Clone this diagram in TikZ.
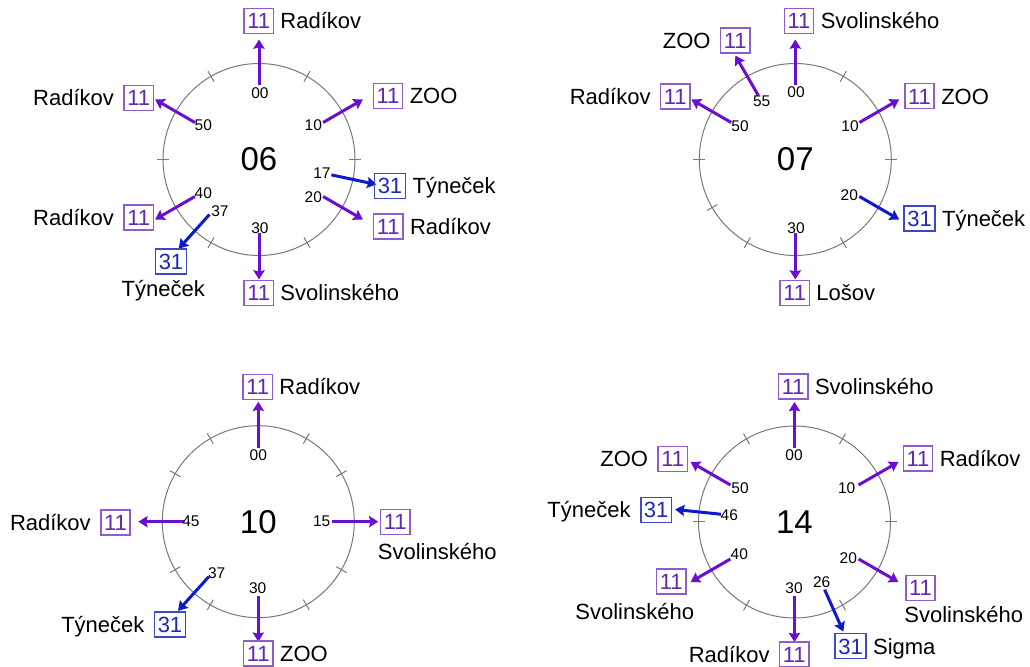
\documentclass[tikz,border=0pt]{standalone}
\usepackage{fontspec}
\setmainfont{Liberation Sans}
\usetikzlibrary{arrows.meta,calc}

\definecolor{lineviolet}{RGB}{108,14,210}
\definecolor{boxviolet}{RGB}{142,92,204}
\definecolor{txtviolet}{RGB}{98,40,178}
\definecolor{lineblue}{RGB}{14,24,204}
\definecolor{boxblue}{RGB}{62,72,196}
\definecolor{txtblue}{RGB}{30,40,184}
\definecolor{dialgray}{RGB}{120,120,120}

% clock face: name, centre x, centre y, hour
\newcommand\clockface[4]{%
  \coordinate (#1) at (#2,#3);
  \draw[dialline] (#1) circle[radius=96];
  \foreach \k in {0,30,...,330}
    \draw[dialline] ($(#1)+(\k:90)$) -- ($(#1)+(\k:102)$);
  \node[hour] (#1h) at (#1) {#4};
}
% one departure arrow: dial, minute, line number
\newcommand\departure[3]{%
  \coordinate (#1#2s) at ($(#1)+({6*#2-90}:74)$);
  \coordinate (#1#2t) at ($(#1)+({6*#2-90}:120)$);
  \draw[r#3] (#1#2s) -- (#1#2t);
}

\begin{document}
\begin{tikzpicture}[x=0.5pt,y=-0.5pt,
  dialline/.style={draw=dialgray, line width=0.5pt},
  hour/.style={font=\fontsize{16.5pt}{18pt}\selectfont, inner sep=0pt},
  mins/.style={font=\fontsize{7.75pt}{9pt}\selectfont, inner sep=0pt},
  dest/.style={font=\fontsize{11pt}{13pt}\selectfont, inner sep=0pt, text height=7.9pt, text depth=0pt},
  linebox/.style={font=\fontsize{11pt}{13pt}\selectfont, line width=0.75pt, inner xsep=1.6pt, inner ysep=2.3pt, text height=7.9pt, text depth=0pt},
  l11/.style={linebox, draw=boxviolet, text=txtviolet},
  l31/.style={linebox, draw=boxblue, text=txtblue},
  run/.style={line width=1.5pt, -{Stealth[length=4.6pt,width=5.6pt,inset=0.6pt]}},
  r11/.style={run, draw=lineviolet},
  r31/.style={run, draw=lineblue},
  toright/.style={dest, anchor=west, xshift=3pt},
  toleft/.style={dest, anchor=east, xshift=-4.5pt},
]
\useasboundingbox (0,0) rectangle (1030,667);

% ---------------- 06 ----------------
\clockface{A}{259}{159.5}{06}
\departure{A}{0}{11}
\departure{A}{10}{11}
\departure{A}{17}{31}
\departure{A}{20}{11}
\departure{A}{30}{11}
\departure{A}{37}{31}
\departure{A}{40}{11}
\departure{A}{50}{11}
\node[mins] (A0m)  at (260,92.7)    {00};
\node[mins] (A10m) at (313.3,125)   {10};
\node[mins] (A17m) at (322,173.3)   {17};
\node[mins] (A20m) at (313.3,196.7) {20};
\node[mins] (A30m) at (260,228.3)   {30};
\node[mins] (A37m) at (220,210.7)   {37};
\node[mins] (A40m) at (203.3,192.7) {40};
\node[mins] (A50m) at (203.3,125)   {50};
\node[l11] (A0b)  at (258.7,20.8)  {11};
\node[l11] (A10b) at (388,95.8)    {11};
\node[l31] (A17b) at (390,185.8)   {31};
\node[l11] (A20b) at (388.3,226.7) {11};
\node[l11] (A30b) at (258.7,292.8) {11};
\node[l31] (A37b) at (171,261.7)   {31};
\node[l11] (A40b) at (138.7,217.5) {11};
\node[l11] (A50b) at (138.7,98)    {11};
\node[toright] (A0d)  at (A0b.east)  {Radíkov};
\node[toright] (A10d) at (A10b.east) {ZOO};
\node[toright] (A17d) at (A17b.east) {Týneček};
\node[toright] (A20d) at (A20b.east) {Radíkov};
\node[toright] (A30d) at (A30b.east) {Svolinského};
\node[dest]    (A37d) at (163.3,289) {Týneček};
\node[toleft]  (A40d) at (A40b.west) {Radíkov};
\node[toleft]  (A50d) at (A50b.west) {Radíkov};

% ---------------- 07 ----------------
\clockface{B}{795.3}{159.5}{07}
\departure{B}{0}{11}
\departure{B}{10}{11}
\departure{B}{20}{31}
\departure{B}{30}{11}
\departure{B}{50}{11}
\departure{B}{55}{11}
\node[mins] (B0m)  at (796,91.7)    {00};
\node[mins] (B10m) at (850,126)     {10};
\node[mins] (B20m) at (849.3,195)   {20};
\node[mins] (B30m) at (796,228.3)   {30};
\node[mins] (B50m) at (740,126)     {50};
\node[mins] (B55m) at (761.7,101.7) {55};
\node[l11] (B0b)  at (799,20.8)    {11};
\node[l11] (B10b) at (919.5,96.2)  {11};
\node[l31] (B20b) at (919.5,218.7) {31};
\node[l11] (B30b) at (794.7,292.8) {11};
\node[l11] (B50b) at (675.3,96.7)  {11};
\node[l11] (B55b) at (735.3,40.5)  {11};
\node[toright] (B0d)  at (B0b.east)  {Svolinského};
\node[toright] (B10d) at (B10b.east) {ZOO};
\node[toright] (B20d) at (B20b.east) {Týneček};
\node[toright] (B30d) at (B30b.east) {Lošov};
\node[toleft]  (B50d) at (B50b.west) {Radíkov};
\node[toleft]  (B55d) at (B55b.west) {ZOO};

% ---------------- 10 ----------------
\clockface{C}{258.3}{521.7}{10}
\departure{C}{0}{11}
\departure{C}{15}{11}
\departure{C}{30}{11}
\departure{C}{37}{31}
\departure{C}{45}{11}
\node[mins] (C0m)  at (258.3,455)   {00};
\node[mins] (C15m) at (321.7,521.7) {15};
\node[mins] (C30m) at (257.7,588.3) {30};
\node[mins] (C37m) at (216.7,572.7) {37};
\node[mins] (C45m) at (191,521)     {45};
\node[l11] (C0b)  at (257.7,386.8) {11};
\node[l11] (C15b) at (395.3,522)   {11};
\node[l11] (C30b) at (258.3,653.3) {11};
\node[l31] (C37b) at (170,624.7)   {31};
\node[l11] (C45b) at (115.5,522.5) {11};
\node[toright] (C0d)  at (C0b.east)  {Radíkov};
\node[dest, anchor=west] (C15d) at (377.5,551.5) {Svolinského};
\node[toright] (C30d) at (C30b.east) {ZOO};
\node[toleft]  (C37d) at (C37b.west) {Týneček};
\node[toleft]  (C45d) at (C45b.west) {Radíkov};

% ---------------- 14 ----------------
\clockface{D}{794.5}{522}{14}
\departure{D}{0}{11}
\departure{D}{10}{11}
\departure{D}{20}{11}
\departure{D}{26}{31}
\departure{D}{30}{11}
\departure{D}{40}{11}
\departure{D}{46}{31}
\departure{D}{50}{11}
\node[mins] (D0m)  at (794,455)     {00};
\node[mins] (D10m) at (846.7,488.3) {10};
\node[mins] (D20m) at (848.3,558.3) {20};
\node[mins] (D26m) at (821.7,582.3) {26};
\node[mins] (D30m) at (794,588.3)   {30};
\node[mins] (D40m) at (739.3,554)   {40};
\node[mins] (D46m) at (729.3,515)   {46};
\node[mins] (D50m) at (740,487.7)   {50};
\node[l11] (D0b)  at (793.3,386.7) {11};
\node[l11] (D10b) at (918,458.7)   {11};
\node[l11] (D20b) at (920.5,588)   {11};
\node[l31] (D26b) at (850.5,646.2) {31};
\node[l11] (D30b) at (794.3,654.3) {11};
\node[l11] (D40b) at (671.3,581.3) {11};
\node[l31] (D46b) at (656.2,510)   {31};
\node[l11] (D50b) at (672.8,459)   {11};
\node[toright] (D0d)  at (D0b.east)  {Svolinského};
\node[toright] (D10d) at (D10b.east) {Radíkov};
\node[dest, anchor=west] (D20d) at (904,615) {Svolinského};
\node[toright] (D26d) at (D26b.east) {Sigma};
\node[toleft]  (D30d) at (D30b.west) {Radíkov};
\node[dest, anchor=west] (D40d) at (575,611.7) {Svolinského};
\node[toleft]  (D46d) at (D46b.west) {Týneček};
\node[toleft]  (D50d) at (D50b.west) {ZOO};
\end{tikzpicture}
\end{document}
